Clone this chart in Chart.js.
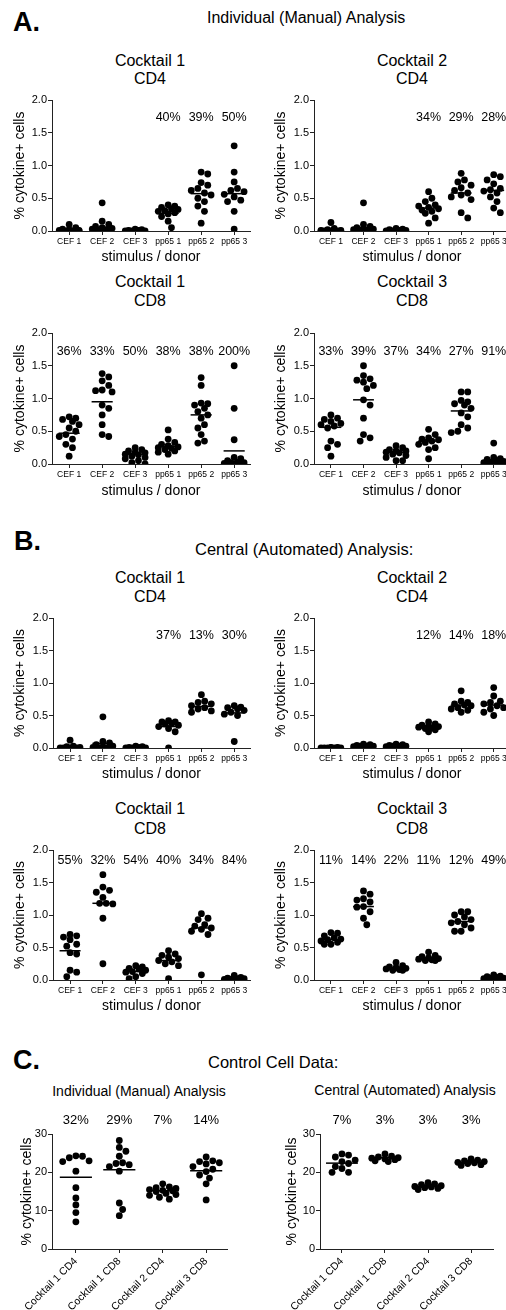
<!DOCTYPE html>
<html><head><meta charset="utf-8">
<script src="https://cdn.jsdelivr.net/npm/chart.js@4.4.1/dist/chart.umd.min.js"></script>
<style>
html,body{margin:0;padding:0;background:#fff;overflow:hidden;width:506px;height:1310px;}
body{position:relative;font-family:"Liberation Sans",Arial,sans-serif;color:#000;}
.t{position:absolute;white-space:nowrap;line-height:1;}
.c{transform:translate(-50%,-50%);}
.l{transform:translate(0,-50%);}
canvas{position:absolute;}
</style></head><body>
<script>
// ---------- categories ----------
const stimCats = ['CEF 1','CEF 2','CEF 3','pp65 1','pp65 2','pp65 3'];
const ctrlCats = ['Cocktail 1 CD4','Cocktail 1 CD8','Cocktail 2 CD4','Cocktail 3 CD8'];

// ---------- A. Individual (Manual) ----------
const manC1CD4 = [
  [0.10,0.05,0.03,0.02,0.01,0.01,0,0,0,0,0,0],
  [0.43,0.15,0.10,0.07,0.05,0.04,0.03,0.02,0.01,0,0,0],
  [0.03,0.02,0.01,0.01,0,0,0,0,0,0,0],
  [0.40,0.38,0.36,0.34,0.33,0.31,0.30,0.28,0.26,0.22,0.15,0.05],
  [0.90,0.87,0.74,0.70,0.65,0.62,0.58,0.55,0.50,0.45,0.38,0.30,0.12],
  [1.30,0.90,0.75,0.65,0.62,0.60,0.56,0.52,0.47,0.45,0.30,0.03]];
const manC1CD4Mean = [0.01,0.05,0.01,0.27,0.57,0.57];
const manC1CD4Cv = ['','','','40%','39%','50%'];

const manC2CD4 = [
  [0.13,0.04,0.02,0.01,0.01,0,0,0,0,0,0,0],
  [0.43,0.10,0.07,0.05,0.04,0.03,0.02,0.01,0,0,0,0],
  [0.04,0.03,0.02,0.01,0.01,0,0,0,0,0,0],
  [0.60,0.50,0.45,0.40,0.38,0.36,0.34,0.32,0.30,0.27,0.20,0.12],
  [0.88,0.78,0.75,0.70,0.66,0.62,0.58,0.55,0.52,0.48,0.28,0.20],
  [0.86,0.83,0.78,0.72,0.65,0.63,0.61,0.58,0.52,0.45,0.35,0.28]];
const manC2CD4Mean = [0.02,0.05,0.01,0.35,0.58,0.62];
const manC2CD4Cv = ['','','','34%','29%','28%'];

const manC1CD8 = [
  [0.72,0.70,0.68,0.65,0.60,0.55,0.50,0.45,0.42,0.38,0.30,0.25,0.12],
  [1.38,1.33,1.27,1.20,1.13,1.12,1.10,0.90,0.85,0.75,0.60,0.45,0.42],
  [0.25,0.22,0.20,0.18,0.17,0.15,0.14,0.12,0.10,0.08,0.05,0.02,0.0],
  [0.52,0.38,0.33,0.30,0.28,0.26,0.25,0.24,0.22,0.20,0.18,0.15],
  [1.32,1.20,0.93,0.92,0.90,0.85,0.80,0.75,0.70,0.60,0.55,0.45,0.35,0.32],
  [1.50,0.85,0.37,0.10,0.08,0.05,0.03,0.02,0.02,0.01,0,0]];
const manC1CD8Mean = [0.47,0.95,0.15,0.27,0.75,0.20];
const manC1CD8Cv = ['36%','33%','50%','38%','38%','200%'];

const manC3CD8 = [
  [0.75,0.70,0.68,0.65,0.62,0.60,0.58,0.55,0.35,0.30,0.25,0.12],
  [1.50,1.35,1.30,1.28,1.25,1.20,1.15,0.98,0.90,0.70,0.45,0.40,0.35],
  [0.28,0.25,0.22,0.20,0.20,0.18,0.17,0.15,0.13,0.10,0.05,0.05],
  [0.53,0.45,0.40,0.38,0.37,0.35,0.33,0.30,0.25,0.22,0.08],
  [1.10,1.10,0.97,0.95,0.92,0.90,0.85,0.78,0.72,0.60,0.55,0.50,0.48],
  [0.32,0.10,0.08,0.07,0.05,0.04,0.03,0.02,0.02,0.01,0]];
const manC3CD8Mean = [0.56,0.98,0.18,0.35,0.81,0.05];
const manC3CD8Cv = ['33%','39%','37%','34%','27%','91%'];

// ---------- B. Central (Automated) ----------
const autC1CD4 = [
  [0.12,0.03,0.02,0.01,0,0,0,0,0,0],
  [0.48,0.10,0.08,0.05,0.03,0.02,0.01,0,0,0],
  [0.03,0.02,0.01,0.01,0,0,0,0,0],
  [0.42,0.40,0.40,0.38,0.37,0.35,0.33,0.30,0.25,0.0],
  [0.82,0.72,0.70,0.68,0.65,0.62,0.60,0.57,0.55],
  [0.65,0.63,0.62,0.60,0.58,0.55,0.52,0.50,0.10]];
const autC1CD4Mean = [0.01,0.07,0.01,0.33,0.64,0.54];
const autC1CD4Cv = ['','','','37%','13%','30%'];

const autC2CD4 = [
  [0.01,0.01,0,0,0,0,0,0,0,0],
  [0.06,0.05,0.04,0.03,0.03,0.02,0.02,0.01,0.03,0.02],
  [0.06,0.05,0.04,0.03,0.03,0.02,0.02,0.01,0.03,0.02],
  [0.40,0.37,0.35,0.34,0.33,0.32,0.31,0.30,0.28,0.25],
  [0.88,0.72,0.70,0.68,0.66,0.65,0.62,0.60,0.58,0.55],
  [0.93,0.80,0.72,0.70,0.68,0.65,0.62,0.60,0.55,0.50]];
const autC2CD4Mean = [0.0,0.03,0.03,0.33,0.66,0.66];
const autC2CD4Cv = ['','','','12%','14%','18%'];

const autC1CD8 = [
  [0.70,0.68,0.66,0.62,0.55,0.52,0.42,0.40,0.15,0.12,0.05],
  [1.62,1.43,1.38,1.35,1.27,1.18,1.18,1.17,0.95,0.25],
  [0.22,0.20,0.18,0.17,0.15,0.13,0.12,0.10,0.05,0.02],
  [0.45,0.40,0.38,0.35,0.33,0.30,0.28,0.25,0.22,0.02],
  [1.02,0.95,0.93,0.85,0.83,0.80,0.78,0.75,0.70,0.08],
  [0.07,0.04,0.03,0.02,0.02,0.01,0.01,0,0]];
const autC1CD8Mean = [0.45,1.18,0.13,0.30,0.80,0.02];
const autC1CD8Cv = ['55%','32%','54%','40%','34%','84%'];

const autC3CD8 = [
  [0.73,0.72,0.68,0.65,0.63,0.62,0.60,0.58,0.55,0.55],
  [1.37,1.32,1.25,1.23,1.20,1.13,1.12,1.05,0.95,0.85],
  [0.27,0.22,0.20,0.19,0.18,0.17,0.16,0.15,0.15],
  [0.43,0.38,0.36,0.34,0.33,0.32,0.31,0.30,0.30],
  [1.05,1.05,1.00,0.97,0.93,0.90,0.88,0.85,0.80,0.75,0.75],
  [0.08,0.06,0.05,0.04,0.03,0.03,0.02,0.02,0.01]];
const autC3CD8Mean = [0.62,1.13,0.18,0.33,0.90,0.04];
const autC3CD8Cv = ['11%','14%','22%','11%','12%','49%'];

// ---------- C. Control cells ----------
const ctrlManual = [
  [24.3,24.2,23.8,23.0,22.8,20.3,16.0,13.3,11.5,9.5,7.1],
  [28.3,26.5,25.5,24.2,22.5,22.3,22.0,21.5,20.3,12.0,10.3,8.7],
  [17.0,16.2,16.0,15.8,15.5,15.3,15.2,15.0,14.5,14.2,14.0,13.5,13.0],
  [24.0,23.0,22.8,22.5,22.2,21.5,20.8,20.2,19.3,18.5,17.0,12.8]];
const ctrlManualMean = [18.7,20.7,15.2,20.4];
const ctrlManualCv = ['32%','29%','7%','14%'];

const ctrlCentral = [
  [24.8,24.5,24.0,23.2,22.8,22.3,21.5,21.0,20.0,20.0],
  [24.8,24.2,24.0,23.8,23.7,23.5,23.3,23.0,22.8],
  [17.3,17.0,16.8,16.5,16.3,16.2,16.0,15.8,15.5],
  [23.5,23.2,23.0,22.8,22.6,22.5,22.3,22.0,21.8]];
const ctrlCentralMean = [22.4,23.8,16.3,22.6];
const ctrlCentralCv = ['7%','3%','3%','3%'];

// ---------- helpers ----------
const FONT = '"Liberation Sans", Arial, Helvetica, sans-serif';
Chart.defaults.font.family = FONT;
Chart.defaults.color = '#000';

function text(str, x, y, size, cls, bold) {
  const d = document.createElement('div');
  d.className = 't ' + cls;
  d.textContent = str;
  d.style.left = x + 'px'; d.style.top = y + 'px';
  d.style.fontSize = size + 'px';
  if (bold) d.style.fontWeight = 'bold';
  document.body.appendChild(d);
}

// deterministic beeswarm: spreads points of one group sideways to avoid overlap
function swarm(vals, pxX, pxY, dotD, maxOff) {
  const placed = [], offs = new Array(vals.length);
  const order = vals.map((v, i) => i).sort((a, b) => vals[b] - vals[a]);
  const cands = [0];
  for (let k = 1; k * dotD * 0.5 <= maxOff + 0.01; k++) cands.push(k * dotD * 0.5, -k * dotD * 0.5);
  for (const i of order) {
    const y = vals[i] * pxY;
    let best = 0, bestScore = -1;
    for (const c of cands) {
      let md = Infinity;
      for (const p of placed) { const d = Math.hypot(p.x - c, p.y - y); if (d < md) md = d; }
      if (md >= dotD) { best = c; break; }
      if (md > bestScore) { bestScore = md; best = c; }
    }
    placed.push({ x: best, y });
    offs[i] = best / pxX;
  }
  return offs;
}

const pctPlugin = {
  id: 'pct',
  afterDraw(chart, args, o) {
    const { ctx, chartArea } = chart, x = chart.scales.x;
    ctx.save();
    ctx.font = o.size + 'px ' + FONT;
    ctx.fillStyle = '#000'; ctx.textAlign = 'center'; ctx.textBaseline = 'middle';
    o.labels.forEach((t, i) => { if (t) ctx.fillText(t, x.getPixelForValue(i), chartArea.top + o.dy); });
    ctx.restore();
  }
};

function makeChart(o) {
  const cv = document.createElement('canvas');
  cv.width = o.w; cv.height = o.h;
  cv.style.left = o.left + 'px'; cv.style.top = o.top + 'px';
  cv.style.width = o.w + 'px'; cv.style.height = o.h + 'px';
  document.body.appendChild(cv);
  const a = o.area;
  const pxX = (a.r - a.l) / (o.xmax - o.xmin);
  const pxY = (a.b - a.t) / (o.ymax - o.ymin);
  const pts = [];
  o.vals.forEach((g, i) => {
    const offs = swarm(g, pxX, pxY, 6.6, o.maxOff);
    g.forEach((v, j) => pts.push({ x: i + offs[j], y: v }));
  });
  const datasets = [{
    data: pts, pointRadius: 3.4, pointHoverRadius: 3.4, pointBackgroundColor: '#000',
    pointBorderWidth: 0, borderColor: '#000', showLine: false, order: 2
  }];
  o.means.forEach((m, i) => datasets.push({
    data: [{ x: i - o.hw, y: m }, { x: i + o.hw, y: m }], showLine: true,
    pointRadius: 0, borderColor: '#000', borderWidth: 1.5, order: 1
  }));
  new Chart(cv, {
    type: 'scatter',
    data: { datasets },
    plugins: [pctPlugin],
    options: {
      responsive: false, animation: false, devicePixelRatio: 1,
      layout: { autoPadding: false, padding: { left: 0, top: a.t - o.top, right: o.left + o.w - a.r, bottom: 0 } },
      plugins: {
        legend: { display: false }, tooltip: { enabled: false }, title: { display: false },
        pct: { labels: o.pcts, dy: o.pdy, size: o.psize }
      },
      scales: {
        x: {
          type: 'linear', min: o.xmin, max: o.xmax,
          afterBuildTicks: s => { s.ticks = o.cats.map((c, i) => ({ value: i })); },
          afterFit: s => { s.height = o.top + o.h - a.b; },
          ticks: {
            autoSkip: false, maxRotation: o.rot, minRotation: o.rot, padding: 2,
            font: { size: o.xfs }, color: '#000',
            callback: v => o.cats[v]
          },
          grid: { drawOnChartArea: false, drawTicks: true, tickLength: 4, color: '#222', lineWidth: 1 },
          border: { display: true, color: '#222', width: 1 },
          title: { display: !!o.xTitle, text: o.xTitle, font: { size: 14 }, color: '#000', padding: { top: 0, bottom: 0 } }
        },
        y: {
          type: 'linear', min: o.ymin, max: o.ymax,
          afterFit: s => { s.width = a.l - o.left; },
          ticks: { stepSize: o.step, font: { size: 11 }, color: '#000', padding: 1,
            callback: v => o.fmt(v) },
          grid: { drawOnChartArea: false, drawTicks: true, tickLength: 4, color: '#222', lineWidth: 1 },
          border: { display: true, color: '#222', width: 1 },
          title: { display: true, text: '% cytokine+ cells', font: { size: 14 }, color: '#000',
            padding: { top: o.ytp, bottom: 0 } }
        }
      }
    }
  });
}

const f1 = v => v.toFixed(1), f0 = v => String(v);
function stim(o) {
  return Object.assign({ cats: stimCats, xmin: -0.52, ymin: 0, ymax: 2, step: 0.5, fmt: f1,
    hw: 0.32, maxOff: 13, rot: 0, xfs: 8.5, psize: 12.5, xTitle: 'stimulus / donor' }, o);
}

// ---------- text ----------
text('A.', 13, 22, 27, 'l', true);
text('Individual (Manual) Analysis', 207, 18, 16, 'l');
text('Cocktail 1', 150, 61, 16, 'c'); text('CD4', 150, 79, 16, 'c');
text('Cocktail 2', 412, 61, 16, 'c'); text('CD4', 412, 79, 16, 'c');
text('Cocktail 1', 150, 282, 16, 'c'); text('CD8', 150, 301, 16, 'c');
text('Cocktail 3', 412, 282, 16, 'c'); text('CD8', 412, 301, 16, 'c');

text('B.', 14, 541, 27, 'l', true);
text('Central (Automated) Analysis:', 195, 549, 16.5, 'l');
text('Cocktail 1', 150, 578, 16, 'c'); text('CD4', 150, 597, 16, 'c');
text('Cocktail 2', 412, 578, 16, 'c'); text('CD4', 412, 597, 16, 'c');
text('Cocktail 1', 150, 809, 16, 'c'); text('CD8', 150, 829, 16, 'c');
text('Cocktail 3', 412, 809, 16, 'c'); text('CD8', 412, 829, 16, 'c');

text('C.', 13, 1060, 27, 'l', true);
text('Control Cell Data:', 208, 1062, 16.5, 'l');
text('Individual (Manual) Analysis', 139, 1091, 14, 'c');
text('Central (Automated) Analysis', 405, 1090, 14, 'c');

// ---------- charts ----------
makeChart(stim({ left: 0, top: 88, w: 253, h: 178, area: { l: 52, r: 250, t: 100, b: 231 }, xmax: 5.48,
  vals: manC1CD4, means: manC1CD4Mean, pcts: manC1CD4Cv, pdy: 18, ytp: 11.5 }));
makeChart(stim({ left: 253, top: 88, w: 262, h: 178, area: { l: 314, r: 510, t: 100, b: 231 }, xmax: 5.5,
  vals: manC2CD4, means: manC2CD4Mean, pcts: manC2CD4Cv, pdy: 18, ytp: 19.5 }));
makeChart(stim({ left: 0, top: 321, w: 253, h: 179, area: { l: 52, r: 250, t: 333, b: 464 }, xmax: 5.48,
  vals: manC1CD8, means: manC1CD8Mean, pcts: manC1CD8Cv, pdy: 19, ytp: 11.5 }));
makeChart(stim({ left: 253, top: 321, w: 262, h: 179, area: { l: 314, r: 510, t: 333, b: 464 }, xmax: 5.5,
  vals: manC3CD8, means: manC3CD8Mean, pcts: manC3CD8Cv, pdy: 19, ytp: 19.5 }));

makeChart(stim({ left: 0, top: 606, w: 253, h: 177, area: { l: 53, r: 250, t: 618, b: 748 }, xmax: 5.48,
  vals: autC1CD4, means: autC1CD4Mean, pcts: autC1CD4Cv, pdy: 18, ytp: 11.5 }));
makeChart(stim({ left: 253, top: 606, w: 262, h: 177, area: { l: 314, r: 510, t: 618, b: 748 }, xmax: 5.5,
  vals: autC2CD4, means: autC2CD4Mean, pcts: autC2CD4Cv, pdy: 18, ytp: 19.5 }));
makeChart(stim({ left: 0, top: 838, w: 253, h: 177, area: { l: 53, r: 250, t: 850, b: 980 }, xmax: 5.48,
  vals: autC1CD8, means: autC1CD8Mean, pcts: autC1CD8Cv, pdy: 11, ytp: 11.5 }));
makeChart(stim({ left: 253, top: 838, w: 262, h: 177, area: { l: 314, r: 510, t: 850, b: 980 }, xmax: 5.5,
  vals: autC3CD8, means: autC3CD8Mean, pcts: autC3CD8Cv, pdy: 11, ytp: 19.5 }));

const ctrlBase = { cats: ctrlCats, ymin: 0, ymax: 30, step: 10, fmt: f0, hw: 0.37, maxOff: 14,
  rot: 45, xfs: 10.5, psize: 13, xTitle: '', pdy: -14 };
makeChart(Object.assign({}, ctrlBase, { left: 0, top: 1100, w: 253, h: 210, area: { l: 52, r: 227, t: 1134, b: 1249 },
  xmin: -0.55, xmax: 3.48, vals: ctrlManual, means: ctrlManualMean, pcts: ctrlManualCv, ytp: 19 }));
makeChart(Object.assign({}, ctrlBase, { left: 253, top: 1100, w: 253, h: 210, area: { l: 320, r: 493, t: 1134, b: 1249 },
  xmin: -0.51, xmax: 3.51, vals: ctrlCentral, means: ctrlCentralMean, pcts: ctrlCentralCv, ytp: 31 }));
</script>
</body></html>
